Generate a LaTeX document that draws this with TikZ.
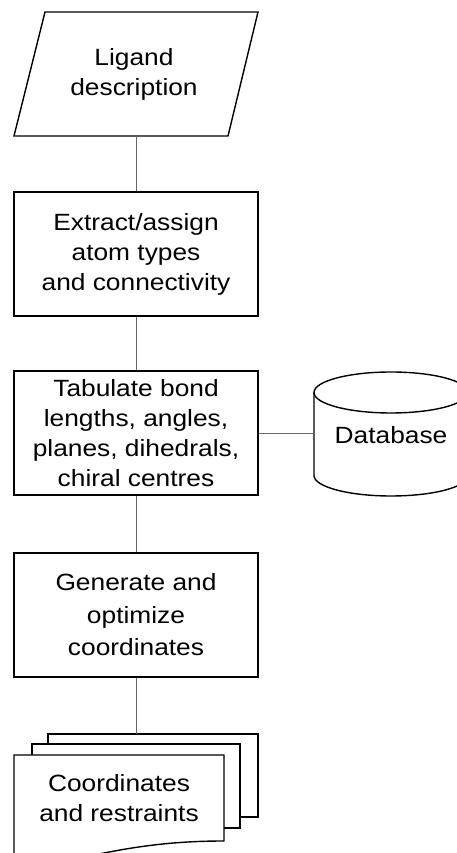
\documentclass[tikz,border=0pt]{standalone}
\usepackage{fontspec}
\setmainfont[FakeStretch=1.12]{Liberation Sans}
\begin{document}
\begin{tikzpicture}[x=1pt,y=1pt,
  shapeline/.style={draw=black, line width=1.4pt, fill=white},
  txt/.style={align=center, inner sep=0pt, font=\fontsize{23.5}{30}\selectfont},
  procbox/.style={shapeline, txt, minimum width=244pt, minimum height=124pt},
  conn/.style={draw=black!60, line width=0.9pt}]
\useasboundingbox (0,0) rectangle (456,853);
\fill[white] (0,0) rectangle (456,853);

% Ligand description (parallelogram)
\draw[shapeline] (45,841) -- (258,841) -- (228,717) -- (14,717) -- cycle;
\node[txt] (lig) at (134,779) {Ligand\\description};
\coordinate (ligb) at (136,717);

% process boxes
\node[procbox] (ext) at (136,599) {Extract/assign\\atom types\\and connectivity};
\node[procbox] (tab) at (136,420) {Tabulate bond\\lengths, angles,\\planes, dihedrals,\\chiral centres};
\node[procbox, font=\fontsize{23.5}{32.5}\selectfont] (gen) at (136,238) {Generate and\\optimize\\coordinates};

% database cylinder
\draw[shapeline] (314,460.5) -- (314,377.5) arc[start angle=180, end angle=360, x radius=77pt, y radius=20.5pt] -- (468,460.5);
\draw[shapeline] (391,460.5) ellipse [x radius=77pt, y radius=20.5pt];
\node[txt] (db) at (391,418) {Database};
\coordinate (dbl) at (314,420);

% multi-document
\draw[shapeline] (48,119) rectangle (258,36);
\draw[shapeline] (32,109) rectangle (240,25);
\draw[shapeline] (14,98) -- (224,98) -- (224,12)
  .. controls (180,12) and (140,8) .. (90,-3)
  .. controls (50,-12) and (30,-14) .. (14,-14) -- cycle;
\node[txt] (doc) at (119,54.5) {Coordinates\\and restraints};
\coordinate (doct) at (136,119);

% connectors
\draw[conn] (ligb) -- (ext.north);
\draw[conn] (ext.south) -- (tab.north);
\draw[conn] (tab.south) -- (gen.north);
\draw[conn] (gen.south) -- (doct);
\draw[conn] (tab.east) -- (dbl);
\end{tikzpicture}
\end{document}
